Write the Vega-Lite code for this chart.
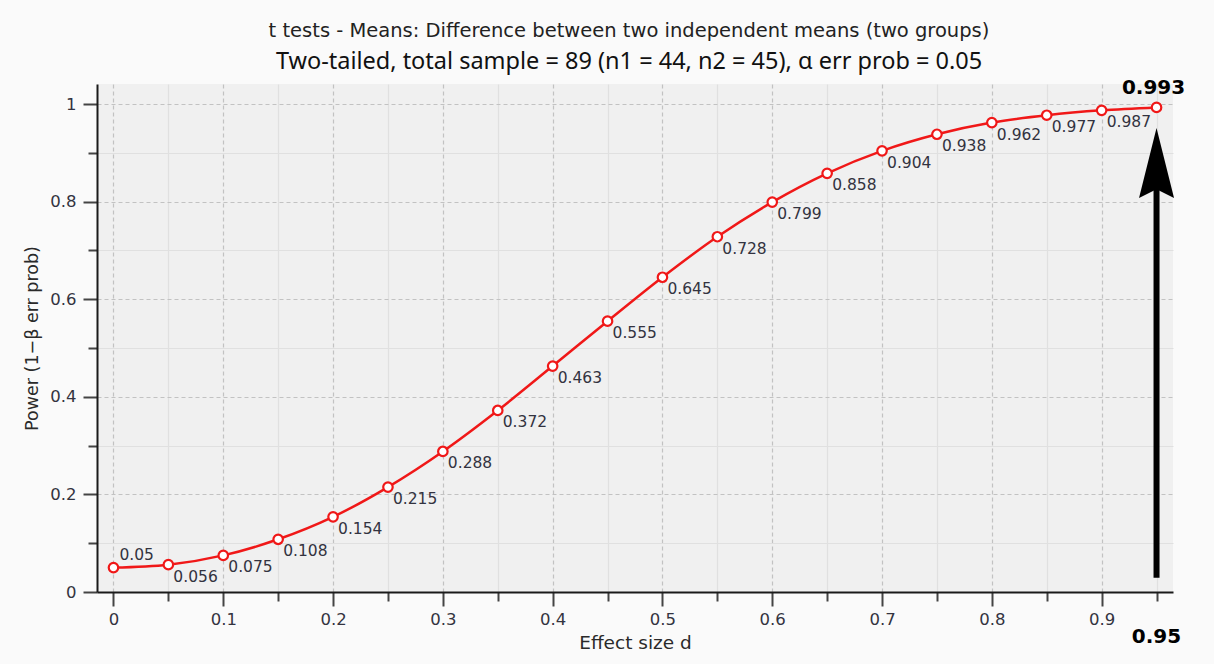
{
  "$schema": "https://vega.github.io/schema/vega-lite/v6.json",
  "autosize": {"type": "none"},
  "padding": {"left": 97, "top": 84, "right": 41, "bottom": 72},
  "width": 1076,
  "height": 508,
  "background": "#fafafa",
  "title": {
    "text": "t tests - Means: Difference between two independent means (two groups)",
    "subtitle": "Two-tailed, total sample = 89 (n1 = 44, n2 = 45), α err prob = 0.05",
    "anchor": "middle",
    "frame": "group",
    "font": "DejaVu Sans",
    "fontSize": 19.5,
    "fontWeight": "normal",
    "color": "#222222",
    "subtitleFont": "Noto Sans",
    "subtitleFontSize": 23.5,
    "subtitleColor": "#111111",
    "subtitlePadding": 8,
    "offset": 4,
    "dx": -6
  },
  "config": {"view": {"fill": "#f0f0f0", "stroke": null}},
  "datasets": {
    "power": [
      {"d": 0, "power": 0.05},
      {"d": 0.05, "power": 0.056},
      {"d": 0.1, "power": 0.075},
      {"d": 0.15, "power": 0.108},
      {"d": 0.2, "power": 0.154},
      {"d": 0.25, "power": 0.215},
      {"d": 0.3, "power": 0.288},
      {"d": 0.35, "power": 0.372},
      {"d": 0.4, "power": 0.463},
      {"d": 0.45, "power": 0.555},
      {"d": 0.5, "power": 0.645},
      {"d": 0.55, "power": 0.728},
      {"d": 0.6, "power": 0.799},
      {"d": 0.65, "power": 0.858},
      {"d": 0.7, "power": 0.904},
      {"d": 0.75, "power": 0.938},
      {"d": 0.8, "power": 0.962},
      {"d": 0.85, "power": 0.977},
      {"d": 0.9, "power": 0.987},
      {"d": 0.95, "power": 0.993}
    ],
    "arrow": [
      {"d": 0.95, "start": 0.029, "end": 0.83, "head": 0.879, "label": "0.95"}
    ]
  },
  "layer": [
    {
      "data": {"name": "power"},
      "mark": {"type": "line", "interpolate": "monotone", "color": "#f01818", "strokeWidth": 2.5},
      "encoding": {
        "x": {
          "field": "d",
          "type": "quantitative",
          "scale": {"domain": [-0.015, 0.965], "nice": false, "zero": false},
          "axis": {
            "title": "Effect size d",
            "titleFont": "DejaVu Sans",
            "titleFontSize": 18.5,
            "titleFontWeight": "normal",
            "titleColor": "#2a2a2a",
            "titlePadding": 6,
            "values": [0, 0.05, 0.1, 0.15, 0.2, 0.25, 0.3, 0.35, 0.4, 0.45, 0.5, 0.55, 0.6, 0.65, 0.7, 0.75, 0.8, 0.85, 0.9, 0.95],
            "labelExpr": "abs(datum.value*10 - round(datum.value*10)) < 0.01 ? format(datum.value, '~g') : ''",
            "labelFont": "DejaVu Sans",
            "labelFontSize": 16.5,
            "labelColor": "#333340",
            "labelPadding": 5,
            "labelFlush": false,
            "labelOverlap": false,
            "domainColor": "#1a1a1a",
            "domainWidth": 2,
            "tickColor": "#444444",
            "tickWidth": 2,
            "tickSize": {"condition": {"test": "abs(datum.value*10 - round(datum.value*10)) < 0.01", "value": 14}, "value": 9},
            "grid": true,
            "gridColor": {"condition": {"test": "abs(datum.value*10 - round(datum.value*10)) < 0.01", "value": "#c2c2c2"}, "value": "#e0e0e0"},
            "gridDash": {"condition": {"test": "abs(datum.value*10 - round(datum.value*10)) < 0.01", "value": [4, 3]}, "value": []},
            "gridWidth": 1.2
          }
        },
        "y": {
          "field": "power",
          "type": "quantitative",
          "scale": {"domain": [0, 1.041], "nice": false},
          "axis": {
            "title": "Power (1−β err prob)",
            "titleFont": "DejaVu Sans",
            "titleFontSize": 17.5,
            "titleFontWeight": "normal",
            "titleColor": "#2a2a2a",
            "titlePadding": 8,
            "values": [0, 0.1, 0.2, 0.3, 0.4, 0.5, 0.6, 0.7, 0.8, 0.9, 1],
            "labelExpr": "abs(datum.value*5 - round(datum.value*5)) < 0.01 ? format(datum.value, '~g') : ''",
            "labelFont": "DejaVu Sans",
            "labelFontSize": 16.5,
            "labelColor": "#333340",
            "labelPadding": 7,
            "labelFlush": false,
            "labelOverlap": false,
            "domainColor": "#1a1a1a",
            "domainWidth": 2,
            "tickColor": "#444444",
            "tickWidth": 2,
            "tickSize": {"condition": {"test": "abs(datum.value*5 - round(datum.value*5)) < 0.01", "value": 14}, "value": 9},
            "grid": true,
            "gridColor": {"condition": {"test": "abs(datum.value*5 - round(datum.value*5)) < 0.01", "value": "#c2c2c2"}, "value": "#e0e0e0"},
            "gridDash": {"condition": {"test": "abs(datum.value*5 - round(datum.value*5)) < 0.01", "value": [4, 3]}, "value": []},
            "gridWidth": 1.2
          }
        }
      }
    },
    {
      "data": {"name": "power"},
      "mark": {"type": "point", "shape": "circle", "filled": true, "fill": "#ffffff", "stroke": "#f01818", "strokeWidth": 2.2, "size": 90, "opacity": 1},
      "encoding": {
        "x": {"field": "d", "type": "quantitative"},
        "y": {"field": "power", "type": "quantitative"}
      }
    },
    {
      "data": {"name": "power"},
      "transform": [{"filter": "datum.d > 0.01 && datum.d < 0.94"}],
      "mark": {"type": "text", "align": "left", "baseline": "middle", "dx": 5, "dy": 12, "font": "DejaVu Sans", "fontSize": 15.5, "color": "#333340"},
      "encoding": {
        "x": {"field": "d", "type": "quantitative"},
        "y": {"field": "power", "type": "quantitative"},
        "text": {"field": "power", "type": "quantitative", "format": "~g"}
      }
    },
    {
      "data": {"name": "power"},
      "transform": [{"filter": "datum.d < 0.01"}],
      "mark": {"type": "text", "align": "left", "baseline": "middle", "dx": 6, "dy": -13, "font": "DejaVu Sans", "fontSize": 15.5, "color": "#333340"},
      "encoding": {
        "x": {"field": "d", "type": "quantitative"},
        "y": {"field": "power", "type": "quantitative"},
        "text": {"field": "power", "type": "quantitative", "format": "~g"}
      }
    },
    {
      "data": {"name": "power"},
      "transform": [{"filter": "datum.d > 0.94"}],
      "mark": {"type": "text", "align": "center", "baseline": "middle", "dx": -3, "dy": -19, "font": "DejaVu Sans", "fontSize": 20, "fontWeight": "bold", "color": "#000000"},
      "encoding": {
        "x": {"field": "d", "type": "quantitative"},
        "y": {"field": "power", "type": "quantitative"},
        "text": {"field": "power", "type": "quantitative", "format": "~g"}
      }
    },
    {
      "data": {"name": "arrow"},
      "mark": {"type": "rule", "color": "#000000", "strokeWidth": 6},
      "encoding": {
        "x": {"field": "d", "type": "quantitative"},
        "y": {"field": "start", "type": "quantitative"},
        "y2": {"field": "end"}
      }
    },
    {
      "data": {"name": "arrow"},
      "mark": {"type": "point", "shape": "M0,-1L0.5,1L0,0.75L-0.5,1Z", "filled": true, "color": "#000000", "size": 4900, "opacity": 1},
      "encoding": {
        "x": {"field": "d", "type": "quantitative"},
        "y": {"field": "head", "type": "quantitative"}
      }
    },
    {
      "data": {"name": "arrow"},
      "mark": {"type": "text", "align": "center", "baseline": "middle", "dy": 45, "font": "DejaVu Sans", "fontSize": 20, "fontWeight": "bold", "color": "#000000"},
      "encoding": {
        "x": {"field": "d", "type": "quantitative"},
        "y": {"datum": 0},
        "text": {"field": "label"}
      }
    }
  ]
}
